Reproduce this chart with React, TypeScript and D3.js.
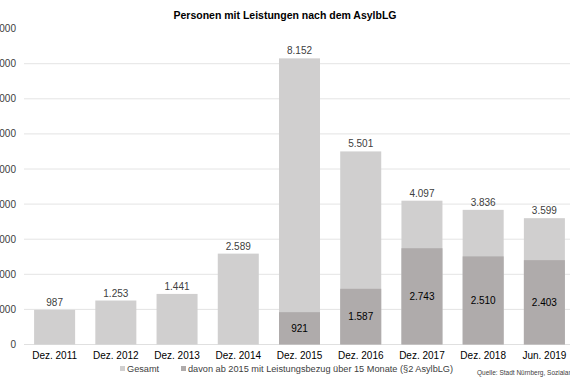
import React from "react";
import * as d3 from "d3";

const categories = ["Dez. 2011", "Dez. 2012", "Dez. 2013", "Dez. 2014", "Dez. 2015", "Dez. 2016", "Dez. 2017", "Dez. 2018", "Jun. 2019"];
const totals = [987, 1253, 1441, 2589, 8152, 5501, 4097, 3836, 3599];
const davon = [null, null, null, null, 921, 1587, 2743, 2510, 2403];
const yTicks = [0, 1000, 2000, 3000, 4000, 5000, 6000, 7000, 8000, 9000];
const seriesNames = ["Gesamt", "davon ab 2015 mit Leistungsbezug über 15 Monate (§2 AsylbLG)"];
const title = "Personen mit Leistungen nach dem AsylbLG";
const source = "Quelle: Stadt Nürnberg, Sozialamt";

const W = 570, H = 380;
const LIGHT = "#d0cfcf";
const DARK = "#afabab";
const TXT = "#404040";
const FONT = "'Liberation Sans', Arial, sans-serif";

const de = d3.formatLocale({ decimal: ",", thousands: ".", grouping: [3], currency: ["", "€"] });
const fmt = de.format(",d");

export default function App() {
  const x = d3.scaleBand<string>().domain(categories).range([24, 575]).paddingInner(0.33).paddingOuter(0.165);
  const y = d3.scaleLinear().domain([0, 9000]).range([344.5, 28.6]);
  const bw = x.bandwidth();
  return (
    <svg width={W} height={H} style={{ position: "fixed", left: 0, top: 0, background: "#fff" }} fontFamily={FONT}>
      <rect width={W} height={H} fill="#fff" />
      <text x={285} y={19} textAnchor="middle" fontSize={10.5} fontWeight="bold" fill="#000">{title}</text>
      {yTicks.map((t) => (
        <g key={t}>
          {t > 0 && t < 9000 && <line x1={24} x2={W} y1={y(t)} y2={y(t)} stroke="#e4e4e4" strokeWidth={1} />}
          <text x={16} y={y(t)} dy="0.35em" textAnchor="end" fontSize={10} fill={TXT}>{fmt(t)}</text>
        </g>
      ))}
      <line x1={24} x2={W} y1={y(0)} y2={y(0)} stroke="#e0e0e0" strokeWidth={1} />
      {categories.map((c, i) => {
        const x0 = x(c)!;
        const d = davon[i];
        return (
          <g key={c}>
            <rect x={x0} y={y(totals[i])} width={bw} height={y(0) - y(totals[i])} fill={LIGHT} />
            {d != null && <rect x={x0} y={y(d)} width={bw} height={y(0) - y(d)} fill={DARK} />}
            <text x={x0 + bw / 2} y={y(totals[i]) - 4} textAnchor="middle" fontSize={10} fill={TXT}>{fmt(totals[i])}</text>
            {d != null && (
              <text x={x0 + bw / 2} y={(y(d) + y(0)) / 2} dy="0.35em" textAnchor="middle" fontSize={10} fill="#000">{fmt(d)}</text>
            )}
            <text x={x0 + bw / 2} y={359} textAnchor="middle" fontSize={10} fill="#000">{c}</text>
          </g>
        );
      })}
      <rect x={120} y={366} width={5} height={5} fill={LIGHT} />
      <text x={127} y={372} fontSize={9.2} fill={TXT}>{seriesNames[0]}</text>
      <rect x={181} y={366} width={5} height={5} fill={DARK} />
      <text x={188} y={372} fontSize={9.2} fill={TXT}>{seriesNames[1]}</text>
      <text x={477} y={375} fontSize={6.5} fill={TXT}>{source}</text>
    </svg>
  );
}
